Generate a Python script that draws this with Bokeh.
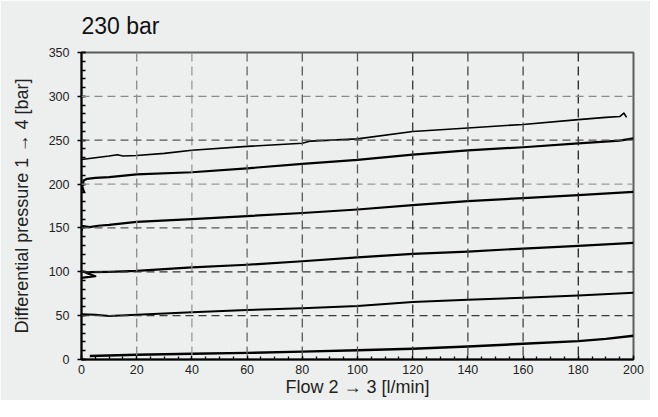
from bokeh.plotting import figure
from bokeh.models import Span, Range1d, FixedTicker
from bokeh.embed import file_html
from bokeh.resources import INLINE

# Data (flow in l/min, differential pressure in bar)
flow1 = [0, 5, 10, 13, 15, 20, 30, 40, 60, 80, 83, 100, 120, 140, 160, 180, 190, 195, 196.5, 197.5]
p1 = [228, 230, 232, 233.5, 232, 232.5, 235, 238.5, 243, 246.5, 249, 251.5, 260, 264, 268, 273.5, 276, 277, 281, 276]

flow2 = [1, 0.3, 0.8, 2, 5, 10, 20, 40, 60, 80, 100, 120, 140, 160, 180, 195, 200]
p2 = [190, 197, 204, 206, 207, 208, 211, 213.5, 218, 223, 227.5, 233.5, 238.5, 242, 246.5, 249.5, 252]

flow3 = [0, 0.5, 3, 6, 10, 20, 40, 60, 80, 100, 120, 140, 160, 180, 200]
p3 = [147, 152, 151, 152.5, 153.5, 157, 160, 163.5, 167, 171, 176, 180.5, 184, 187.5, 191]

flow4 = [0, 5, 0.5, 3, 10, 20, 40, 60, 80, 100, 120, 140, 160, 180, 200]
p4 = [93, 95, 100, 99.5, 100, 101, 105, 108, 112, 116.5, 120.5, 123, 126.5, 129.5, 133]

flow5 = [0, 5, 10, 20, 40, 60, 80, 100, 120, 140, 160, 180, 200]
p5 = [51.5, 51, 49.5, 51, 54, 56.5, 58.5, 61, 65.5, 68, 70.5, 73, 76]

flow6 = [3, 20, 40, 60, 80, 100, 120, 140, 160, 180, 190, 200]
p6 = [4, 5.5, 6.5, 7.5, 9, 10.5, 12.2, 14.8, 17.9, 20.9, 23.5, 27]

x_ticks = [0, 20, 40, 60, 80, 100, 120, 140, 160, 180, 200]
y_ticks = [0, 50, 100, 150, 200, 250, 300, 350]
title_text = "230 bar"

BG = "#edefee"
FONT = "Liberation Sans"

p = figure(width=650, height=400, output_backend="svg", toolbar_location=None,
           x_range=Range1d(0, 200), y_range=Range1d(0, 350),
           min_border_left=81, min_border_right=17, min_border_top=52, min_border_bottom=41)
p.background_fill_color = BG
p.border_fill_color = BG
p.outline_line_color = "#5c5c5c"
p.outline_line_width = 2
p.grid.visible = False

p.title.text = title_text
p.title.text_font = FONT
p.title.text_font_size = "23px"
p.title.text_font_style = "normal"
p.title.text_color = "#111111"
p.title.align = "left"
p.title.vertical_align = "top"
p.title.standoff = 24

# Grid lines as dashed spans
vcolors = {20: "#8a8a8a", 40: "#999999", 60: "#666666", 80: "#555555", 100: "#555555",
           120: "#333333", 140: "#444444", 160: "#444444", 180: "#222222"}
for xv in x_ticks[1:-1]:
    p.add_layout(Span(location=xv, dimension="height", line_color=vcolors[xv],
                      line_width=1.3, line_dash="9 5"))
hcolors = {50: "#3a3a3a", 100: "#333333", 150: "#555555", 200: "#999999", 250: "#555555", 300: "#8a8a8a"}
for yv in y_ticks[1:-1]:
    p.add_layout(Span(location=yv, dimension="width", line_color=hcolors[yv],
                      line_width=1.3, line_dash="8 5"))

for fx, py, w in [(flow1, p1, 1.6), (flow2, p2, 2.2), (flow3, p3, 2.2),
                  (flow4, p4, 2.2), (flow5, p5, 2.0), (flow6, p6, 2.4)]:
    p.line(fx, py, line_color="black", line_width=w, line_join="round")

p.xaxis.ticker = FixedTicker(ticks=x_ticks, minor_ticks=list(range(0, 201, 5)))
p.yaxis.ticker = FixedTicker(ticks=y_ticks, minor_ticks=list(range(0, 351, 10)))

for ax in (p.xaxis, p.yaxis):
    ax.axis_line_color = "black"
    ax.axis_line_width = 2
    ax.major_tick_line_color = "black"
    ax.minor_tick_line_color = "black"
    ax.major_tick_line_width = 1.3
    ax.minor_tick_line_width = 1.3
    ax.major_label_text_font = FONT
    ax.major_label_text_font_size = "12.5px"
    ax.major_label_text_color = "#222222"
    ax.axis_label_text_font = FONT
    ax.axis_label_text_font_size = "18px"
    ax.axis_label_text_font_style = "normal"
    ax.axis_label_text_color = "#222222"

p.xaxis.major_tick_in = 4
p.xaxis.major_tick_out = 0
p.xaxis.minor_tick_in = 3
p.xaxis.minor_tick_out = 0
p.xaxis.major_label_standoff = 5
p.xaxis.axis_label = "Flow 2 \u2192 3 [l/min]"
p.xaxis.axis_label_standoff = 0

p.yaxis.major_tick_in = 4
p.yaxis.major_tick_out = 4
p.yaxis.minor_tick_in = 4
p.yaxis.minor_tick_out = 0
p.yaxis.major_label_standoff = 8
p.yaxis.axis_label = "Differential pressure 1 \u2192 4 [bar]"
p.yaxis.axis_label_standoff = 14

open("out.html", "w").write(file_html(p, INLINE))
